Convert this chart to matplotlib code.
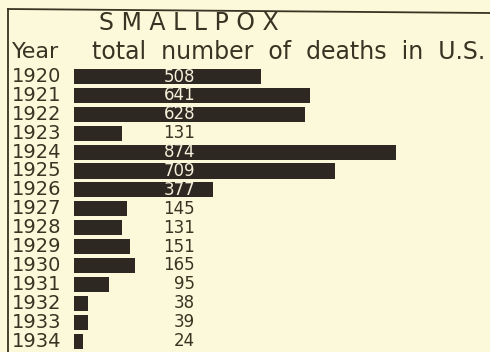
import matplotlib
matplotlib.use("Agg")
import matplotlib.pyplot as plt
from matplotlib.lines import Line2D
from matplotlib.transforms import blended_transform_factory

years = ["1920", "1921", "1922", "1923", "1924", "1925", "1926", "1927",
         "1928", "1929", "1930", "1931", "1932", "1933", "1934"]
deaths = [508, 641, 628, 131, 874, 709, 377, 145, 131, 151, 165, 95, 38, 39, 24]

title = "SMALLPOX"
subtitle_left = "Year"
subtitle_right = "total number of deaths in U.S."

W, H = 490, 352
BG = "#fcf9da"
INK = "#3a3323"
BAR = "#2d2822"

fig = plt.figure(figsize=(W / 100, H / 100), dpi=100, facecolor=BG)

# Bar area: starts at pixel column 74 and covers the rest of the width
left_px = 74
px_per_death = 0.3684
row_px = 18.9
first_row_px = 76.5
ax = fig.add_axes([left_px / W, 0, (W - left_px) / W, 1])
ax.set_facecolor(BG)
ax.set_xlim(0, (W - left_px) / px_per_death)
ax.set_ylim((H - first_row_px) / row_px, -first_row_px / row_px)
ax.axis("off")

rows = list(range(len(years)))
ax.barh(rows, deaths, height=0.8, color=BAR, edgecolor="none")

# value labels, right-aligned in a common column
label_x = (195 - left_px) / px_per_death
for r, v in zip(rows, deaths):
    inside = v > label_x * 1.08
    ax.text(label_x, r, str(v), ha="right", va="center", fontsize=12,
            color="#f3efd8" if inside else INK)

# year labels on the left (x in figure fraction, y in row units)
year_tr = blended_transform_factory(fig.transFigure, ax.transData)
for r, y in zip(rows, years):
    ax.text(12 / W, r, y, transform=year_tr, fontsize=14,
            color=INK, ha="left", va="center")

# headings
fig.text(189 / W, 1 - 23 / H, " ".join(title), ha="center", va="center",
         fontsize=17, color=INK)
fig.text(12 / W, 1 - 52 / H, subtitle_left, ha="left", va="center",
         fontsize=16, color=INK)
fig.text(485 / W, 1 - 52 / H, subtitle_right.replace(" ", "  "),
         ha="right", va="center", fontsize=17, color=INK)

# hand-ruled frame: top rule and left rule
fig.add_artist(Line2D([8 / W, 1], [1 - 9 / H, 1 - 13 / H], color=INK, lw=1.3))
fig.add_artist(Line2D([7.5 / W, 7.5 / W], [1 - 9 / H, 0], color=INK, lw=1.3))

fig.savefig("out.png", dpi=100, facecolor=BG)
